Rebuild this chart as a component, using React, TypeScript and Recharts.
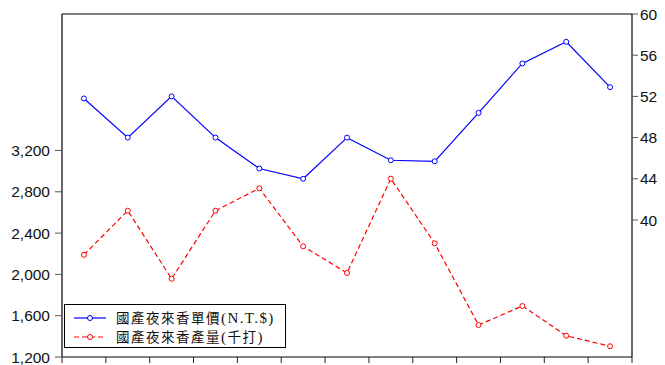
import React from "react";
import { LineChart, Line, XAxis, YAxis, Legend, ReferenceLine } from "recharts";

const periods = [1, 2, 3, 4, 5, 6, 7, 8, 9, 10, 11, 12, 13];
const unitPrice = [51.8, 48.0, 52.0, 48.0, 45.0, 44.0, 48.0, 45.8, 45.7, 50.4, 55.2, 57.3, 52.9];
const output = [2190, 2617, 1958, 2617, 2834, 2272, 2014, 2927, 2301, 1510, 1694, 1406, 1304];
const leftTicks = [1200, 1600, 2000, 2400, 2800, 3200];
const rightTicks = [40, 44, 48, 52, 56, 60];
const xTicks = [0.5, 1.5, 2.5, 3.5, 4.5, 5.5, 6.5, 7.5, 8.5, 9.5, 10.5, 11.5, 12.5, 13.5];
const priceLabel = "國產夜來香單價(N.T.$)";
const outputLabel = "國產夜來香產量(千打)";

const data = periods.map((p, i) => ({ x: p, price: unitPrice[i], qty: output[i] }));

const tickFont = { fontFamily: "'Liberation Sans', Arial, sans-serif", fontSize: 15.5, fill: "#111" };

const MixedText = ({ text }: { text: string }) => (
  <>
    {Array.from(text).map((ch, i) =>
      ch.charCodeAt(0) < 128 ? (
        <span key={i} style={{ fontFamily: "'Liberation Serif', serif", fontSize: 15, letterSpacing: 1.4 }}>
          {ch}
        </span>
      ) : (
        <span key={i} style={{ fontFamily: "'Noto Sans CJK TC', sans-serif", fontSize: 13.5, letterSpacing: 1.5 }}>
          {ch}
        </span>
      )
    )}
  </>
);

const EmptyTick = () => null;

const LegendBox = () => {
  const rows = [
    { label: priceLabel, color: "#0000FF", dash: undefined },
    { label: outputLabel, color: "#FF0000", dash: "5 3" },
  ];
  return (
    <div
      style={{
        width: 222,
        height: 44,
        border: "1px solid #000",
        background: "#fff",
        boxSizing: "border-box",
        position: "relative",
      }}
    >
      {rows.map((r, i) => (
        <div key={i} style={{ position: "absolute", left: 0, top: 3 + i * 19, height: 19, display: "flex", alignItems: "center" }}>
          <svg width={51} height={10} style={{ display: "block" }}>
            <line x1={9} x2={41} y1={5} y2={5} stroke={r.color} strokeWidth={1.2} strokeDasharray={r.dash} />
            <circle cx={25} cy={5} r={2.5} stroke={r.color} fill="#fff" strokeWidth={1} />
          </svg>
          <span style={{ color: "#111", whiteSpace: "nowrap", lineHeight: "19px" }}>
            <MixedText text={r.label} />
          </span>
        </div>
      ))}
    </div>
  );
};

export default function App() {
  return (
    <div style={{ position: "absolute", left: 0, top: 0, background: "#fff" }}>
      <LineChart width={665} height={365} data={data} margin={{ top: 14, right: 0, bottom: 0, left: 0 }}>
        <XAxis
          dataKey="x"
          type="number"
          domain={[0.5, 13.5]}
          ticks={xTicks}
          interval={0}
          tick={<EmptyTick />}
          tickSize={6}
          height={8}
          axisLine={{ stroke: "#000", strokeWidth: 1.2 }}
          tickLine={{ stroke: "#222" }}
          allowDataOverflow
        />
        <YAxis
          yAxisId="left"
          orientation="left"
          domain={[1200, 4522]}
          ticks={leftTicks}
          interval={0}
          width={62}
          tickSize={7}
          tickMargin={5}
          tick={tickFont}
          tickFormatter={(v: number) => v.toLocaleString("en-US")}
          axisLine={{ stroke: "#000", strokeWidth: 1.2 }}
          tickLine={{ stroke: "#555" }}
          allowDataOverflow
        />
        <YAxis
          yAxisId="right"
          orientation="right"
          domain={[26.7, 60]}
          ticks={rightTicks}
          interval={0}
          width={33}
          tickSize={6}
          tickMargin={2}
          tick={tickFont}
          axisLine={{ stroke: "#000", strokeWidth: 1.2 }}
          tickLine={{ stroke: "#555" }}
          allowDataOverflow
        />
        <ReferenceLine yAxisId="right" y={60} stroke="#000" strokeWidth={1.2} />
        <Line
          yAxisId="right"
          dataKey="price"
          stroke="#0000FF"
          strokeWidth={1.2}
          dot={{ r: 2.5, stroke: "#0000FF", fill: "#fff", strokeWidth: 1 }}
          isAnimationActive={false}
        />
        <Line
          yAxisId="left"
          dataKey="qty"
          stroke="#FF0000"
          strokeWidth={1.2}
          strokeDasharray="5 3"
          dot={{ r: 2.5, stroke: "#FF0000", fill: "#fff", strokeWidth: 1, strokeDasharray: "" }}
          isAnimationActive={false}
        />
        <Legend
          layout="horizontal"
          align="center"
          verticalAlign="middle"
          content={() => <LegendBox />}
          wrapperStyle={{ left: 64, top: 304, width: 222, height: 44 }}
        />
      </LineChart>
    </div>
  );
}
